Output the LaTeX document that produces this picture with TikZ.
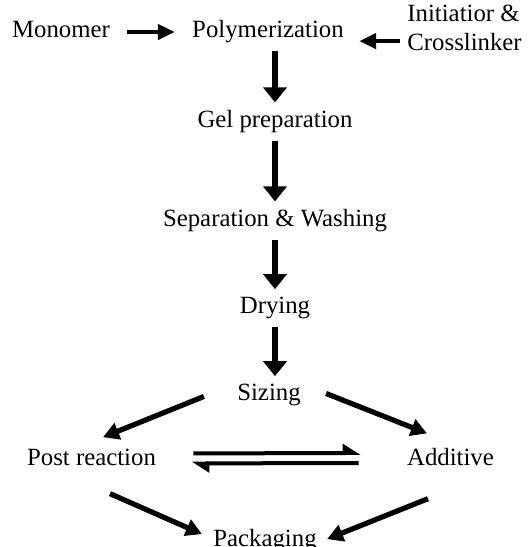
\documentclass[tikz,border=0pt]{standalone}
\usepackage{fontspec}
\setmainfont{Liberation Serif}
\usetikzlibrary{arrows.meta}

\begin{document}
\begin{tikzpicture}[x=0.5pt,y=-0.5pt,
  every node/.style={inner sep=0pt,anchor=base,font=\fontsize{12.4}{14.5}\selectfont},
  varr/.style={line width=3.2pt,-{Triangle[length=7.5pt,width=11.5pt]},shorten <=4pt,shorten >=3.5pt},
  harr/.style={line width=2.2pt,-{Triangle[length=8.5pt,width=7.5pt]}},
  darr/.style={line width=2.6pt,-{Triangle[length=8pt,width=8.5pt]}},
  hparr/.style={line width=2pt,-{Triangle[left,length=7.5pt,width=9pt]}}]
\useasboundingbox (0,0) rectangle (531,547);

\node (mono) at (61,37) {Monomer};
\node (poly) at (268,37) {Polymerization};
\node [anchor=base west,align=left] (init) at (407,50) {Initiatior \&\\Crosslinker};
\node (gel) at (275,127) {Gel preparation};
\node (sep) at (275,226) {Separation \& Washing};
\node (dry) at (275,313) {Drying};
\node (siz) at (269,400) {Sizing};
\node (post) at (91.5,465) {Post reaction};
\node (add) at (450.5,465) {Additive};
\node (pack) at (265,546) {Packaging};

\draw [harr] ([shift={(17,3)}]mono.east) -- ([shift={(-17,3)}]mono.east -| poly.west);
\draw [harr] ([shift={(-7,10)}]init.west |- poly.east) -- ([shift={(15,10)}]poly.east);
\draw [varr] (poly.south -| gel) -- (gel.north);
\draw [varr] (gel.south) -- (sep.north);
\draw [varr] (sep.south) -- (dry.north);
\draw [varr] (dry.south) -- (dry.south |- siz.north);

\draw [darr] ([shift={(-33,2)}]siz.west) -- ([shift={(11.5,-11)}]post.north);
\draw [darr] ([shift={(25,-1)}]siz.east) -- ([shift={(-23.5,-14)}]add.north);
\draw [hparr] ([shift={(37,-3.5)}]post.east) -- ([shift={(-46,-3.5)}]add.west);
\draw [hparr] ([shift={(-48,6.5)}]add.west) -- ([shift={(35,6.5)}]post.east);
\draw [darr] ([shift={(18.5,28)}]post.south) -- ([shift={(-11,-6)}]pack.west);
\draw [darr] ([shift={(-22.5,33)}]add.south) -- ([shift={(10,-1)}]pack.east);

\end{tikzpicture}
\end{document}
